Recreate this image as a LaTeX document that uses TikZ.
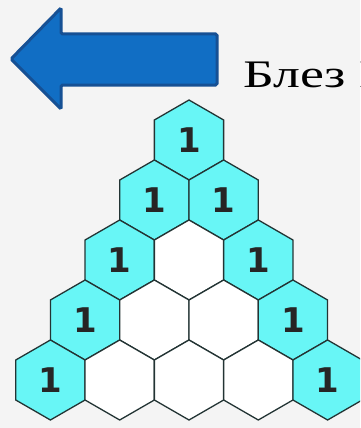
\documentclass[tikz,border=0pt]{standalone}
\usepackage{fontspec}
\setmainfont{Liberation Serif}
\newfontfamily\hexfont{DejaVu Sans}
\usetikzlibrary{shapes.geometric}
\definecolor{pascalCyan}{RGB}{104, 246, 246}
\definecolor{pascalEdge}{RGB}{35, 52, 52}
\definecolor{pascalBlue}{RGB}{17, 110, 196}
\definecolor{pascalDarkBlue}{RGB}{22, 80, 148}
\definecolor{pascalBack}{RGB}{244, 244, 244}
\begin{document}
\begin{tikzpicture}[
  x=1pt,y=-1pt,
  hexcell/.style={
    regular polygon,
    regular polygon sides=6,
    shape border rotate=30,
    minimum size=80pt,
    inner sep=0pt,
    draw=pascalEdge,
    line width=1.3pt,
    font=\hexfont\bfseries\fontsize{34}{34}\selectfont,
    text=black!85
  },
  edgecell/.style={hexcell,fill=pascalCyan},
  innercell/.style={hexcell,fill=white},
  namelabel/.style={
    anchor=base west,
    inner sep=0pt,
    xscale=1.38,
    transform shape,
    font=\fontsize{39}{44}\selectfont
  }
]
  \clip (0,0) rectangle (360,428);
  \fill[pascalBack] (0,0) rectangle (360,428);
  % left arrow
  \draw[fill=pascalBlue,draw=pascalDarkBlue,line width=3pt,rounded corners=1.5pt]
    (217,34) -- (61,34) -- (61,8) -- (11,59) -- (61,109) -- (61,85)
    -- (217,85) -- cycle;
  \node[namelabel] (name) at (243,87) {Блез Паскаль};
  % triangle of hexagons
  \foreach \r in {0,...,4} {
    \foreach \k in {0,...,\r} {
      \pgfmathsetmacro\cx{189+(\k-\r/2)*69.3}
      \pgfmathsetmacro\cy{140+60*\r}
      \ifnum\k=0
        \node[edgecell] (hex-\r-\k) at (\cx,\cy) {1};
      \else\ifnum\k=\r
        \node[edgecell] (hex-\r-\k) at (\cx,\cy) {1};
      \else
        \node[innercell] (hex-\r-\k) at (\cx,\cy) {};
      \fi\fi
    }
  }
\end{tikzpicture}
\end{document}
